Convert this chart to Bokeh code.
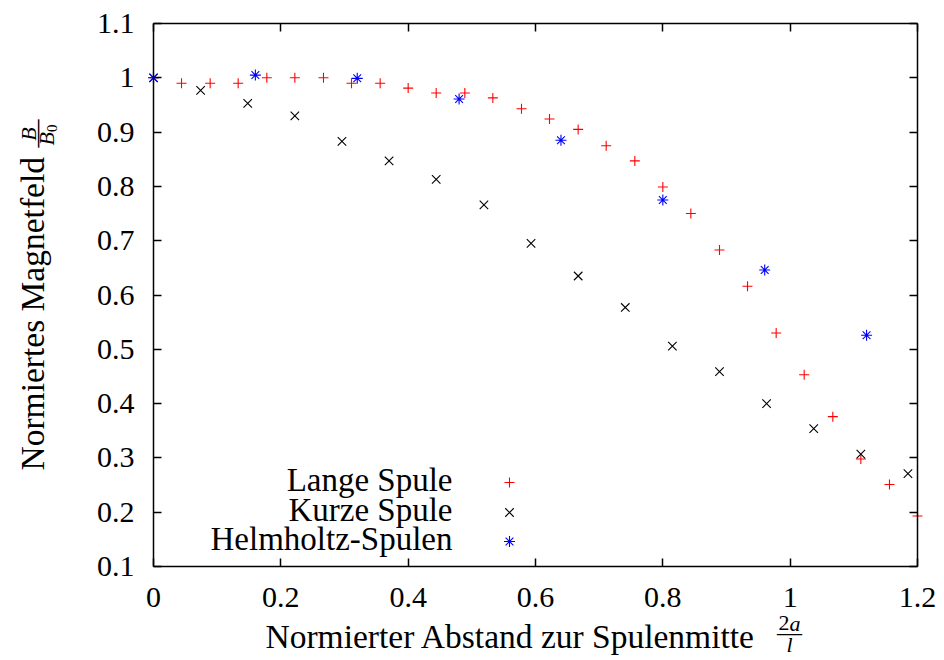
import math
from bokeh.plotting import figure
from bokeh.models import Range1d, LinearAxis, FixedTicker, CustomJSTickFormatter, Label
from bokeh.embed import file_html
from bokeh.resources import INLINE

# ---------------- data ----------------
lange_x = [0.000, 0.044, 0.089, 0.133, 0.178, 0.222, 0.267, 0.311, 0.356, 0.400,
           0.444, 0.489, 0.533, 0.578, 0.622, 0.667, 0.711, 0.756, 0.800, 0.844,
           0.889, 0.933, 0.978, 1.022, 1.067, 1.111, 1.156, 1.200]
lange_y = [1.000, 0.990, 0.990, 0.990, 1.000, 1.000, 1.000, 0.990, 0.990, 0.981,
           0.972, 0.972, 0.963, 0.943, 0.924, 0.905, 0.875, 0.847, 0.799, 0.750,
           0.683, 0.616, 0.530, 0.453, 0.376, 0.298, 0.251, 0.193]

kurze_x = [0.000, 0.074, 0.148, 0.222, 0.296, 0.370, 0.444, 0.519, 0.593, 0.667,
           0.741, 0.815, 0.889, 0.963, 1.037, 1.111, 1.185]
kurze_y = [1.000, 0.977, 0.953, 0.930, 0.883, 0.847, 0.813, 0.766, 0.695, 0.635,
           0.577, 0.506, 0.459, 0.400, 0.354, 0.307, 0.271]

helm_x = [0.00, 0.16, 0.32, 0.48, 0.64, 0.80, 0.96, 1.12]
helm_y = [1.000, 1.005, 0.999, 0.961, 0.885, 0.775, 0.646, 0.526]

series_names = ["Lange Spule", "Kurze Spule", "Helmholtz-Spulen"]

x_ticks = [0.0, 0.2, 0.4, 0.6, 0.8, 1.0, 1.2]
x_tick_labels = ["0", "0.2", "0.4", "0.6", "0.8", "1", "1.2"]
y_ticks = [0.1, 0.2, 0.3, 0.4, 0.5, 0.6, 0.7, 0.8, 0.9, 1.0, 1.1]
y_tick_labels = ["0.1", "0.2", "0.3", "0.4", "0.5", "0.6", "0.7", "0.8", "0.9", "1", "1.1"]

x_title = "Normierter Abstand zur Spulenmitte"
y_title = "Normiertes Magnetfeld"

# ---------------- layout (canvas pixels) ----------------
FONT = "Liberation Serif"
W, H = 944, 660
BOX_L, BOX_R, BOX_T, BOX_B = 153, 917, 23, 566   # plot box in canvas pixels
X0, X1, Y0, Y1 = 0.0, 1.2, 0.1, 1.1
KX = (X1 - X0) / (BOX_R - BOX_L)
KY = (Y1 - Y0) / (BOX_B - BOX_T)
BASE_FIX = 0.33   # empirical baseline correction (fraction of font size)


def dx(px):  # canvas pixel -> data x
    return X0 + (px - BOX_L) * KX


def dy(py):  # canvas pixel -> data y
    return Y1 - (py - BOX_T) * KY


p = figure(width=W, height=H,
           x_range=Range1d(dx(0), dx(W)), y_range=Range1d(dy(H), dy(0)),
           output_backend="svg", toolbar_location=None,
           x_axis_location=None, y_axis_location=None,
           min_border_left=0, min_border_right=0,
           min_border_top=0, min_border_bottom=0)
p.outline_line_color = None
p.background_fill_color = "white"
p.border_fill_color = "white"
p.xgrid.visible = False
p.ygrid.visible = False


def formatter(ticks, labels):
    return CustomJSTickFormatter(args=dict(t=ticks, l=labels), code="""
        let b = 0;
        for (let i = 0; i < t.length; i++) {
            if (Math.abs(t[i] - tick) < Math.abs(t[b] - tick)) b = i;
        }
        return l[b];
    """)


def add_axis(place, ticks, labels, fixed, bounds, show, standoff=0):
    ax = LinearAxis(ticker=FixedTicker(ticks=ticks), formatter=formatter(ticks, labels),
                    fixed_location=fixed, bounds=bounds)
    ax.axis_line_color = "black"
    ax.axis_line_width = 1.5
    ax.major_tick_line_color = "black"
    ax.major_tick_line_width = 1.5
    ax.major_tick_in = 8
    ax.major_tick_out = 0
    ax.minor_tick_in = 0
    ax.minor_tick_out = 0
    ax.minor_tick_line_color = None
    ax.major_label_text_font = FONT
    ax.major_label_text_color = "black"
    ax.major_label_text_font_size = "30px" if show else "0px"
    ax.major_label_standoff = standoff
    p.add_layout(ax, place)
    return ax


add_axis("below", x_ticks, x_tick_labels, Y0, (X0, X1), True, standoff=21)
add_axis("left", y_ticks, y_tick_labels, X0, (Y0, Y1), True, standoff=19)
add_axis("above", x_ticks, ["" for _ in x_ticks], Y1, (X0, X1), False)
add_axis("right", y_ticks, ["" for _ in y_ticks], X1, (Y0, Y1), False)

# ---------------- data markers ----------------
MK = dict(
    lange=dict(marker="cross", size=10, line_color="#ff0000", line_width=1.1),
    kurze=dict(marker="x", size=12, line_color="#000000", line_width=1.1),
    helm=dict(marker="asterisk", size=11, line_color="#0000ff", line_width=1.1),
)
p.scatter(lange_x, lange_y, **MK["lange"])
p.scatter(kurze_x, kurze_y, **MK["kurze"])
p.scatter(helm_x, helm_y, **MK["helm"])


# ---------------- texts ----------------
def lab(text, px, py, size, align="left", rotated=False, italic=False):
    if rotated:
        px = px - BASE_FIX * size
    else:
        py = py - BASE_FIX * size
    p.add_layout(Label(x=dx(px), y=dy(py), text=text, text_font=FONT,
                       text_font_size=f"{size}px", text_align=align,
                       text_baseline="alphabetic",
                       angle=math.pi / 2 if rotated else 0.0,
                       text_font_style="italic" if italic else "normal",
                       text_color="black"))


# x-axis title with fraction 2a / l
lab(x_title, 265, 647, 33.5, "left")
lab("2", 789, 630, 22, "right")
lab("a", 789, 630, 22, "left", italic=True)
lab("\u2014", 789, 640, 25, "center")
lab("l", 789, 651, 22, "center", italic=True)

# y-axis title with fraction B / B0 (rotated, reading upwards)
lab(y_title, 43, 470, 33.5, "left", rotated=True)
lab("B", 35, 133.5, 22, "center", rotated=True, italic=True)
lab("\u2014", 44, 133, 28, "center", rotated=True)
lab("B", 53, 145, 22, "left", rotated=True, italic=True)
lab("0", 56, 131.5, 15, "left", rotated=True)

# ---------------- legend (gnuplot style: text, then sample to the right) ----------------
leg_text_px = 452
leg_mark_px = 509
leg_rows_py = [490, 520, 549]
for name, row in zip(series_names, leg_rows_py):
    lab(name, leg_text_px, row, 33, "right")
for key, row in zip(["lange", "kurze", "helm"], leg_rows_py):
    p.scatter([dx(leg_mark_px)], [dy(row - 8)], **MK[key])

open("out.html", "w").write(file_html(p, INLINE))
